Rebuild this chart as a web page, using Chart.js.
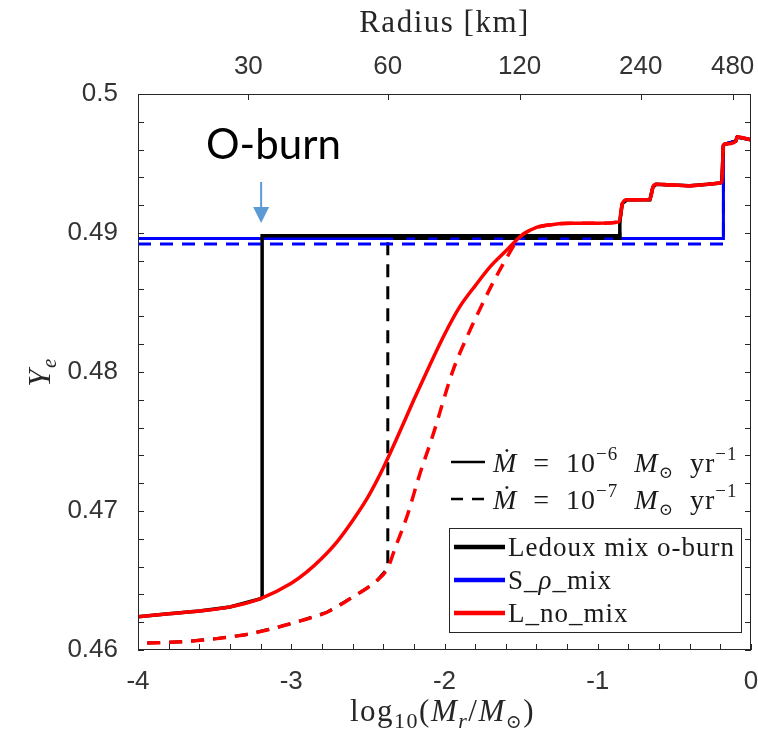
<!DOCTYPE html>
<html>
<head>
<meta charset="utf-8">
<title>Ye</title>
<script src="https://cdn.jsdelivr.net/npm/chart.js@4.4.1/dist/chart.umd.min.js"></script>
<style>
  html, body { margin: 0; padding: 0; background: #fff; }
</style>
</head>
<body>
<canvas id="grafico" width="758" height="734"></canvas>
<script>
// Ye against log10(Mr/Msun), two accretion rates, three mixing setups

// L_no_mix, Mdot = 1e-6 (inner part, up to the Ledoux front)
const redSolidX = [-4, -3.8, -3.6, -3.4, -3.2, -3.0, -2.9, -2.8, -2.7, -2.6, -2.5, -2.4, -2.3, -2.2, -2.1, -2.0, -1.9, -1.8, -1.7, -1.6, -1.5, -1.4, -1.3, -1.2, -1.0, -0.86];
const redSolidY = [0.4624, 0.4626, 0.4628, 0.4631, 0.4637, 0.4648, 0.4656, 0.4666, 0.4678, 0.4693, 0.4710, 0.4731, 0.4755, 0.4780, 0.4804, 0.4827, 0.4847, 0.4862, 0.4876, 0.4887, 0.4898, 0.4904, 0.4906, 0.4907, 0.4907, 0.4908];

// L_no_mix, Mdot = 1e-7
const redDashX = [-3.94, -3.7, -3.5, -3.3, -3.1, -2.94, -2.77, -2.6, -2.5, -2.44, -2.37, -2.32, -2.245, -2.16, -2.08, -1.945, -1.85, -1.77, -1.68, -1.59, -1.51, -1.42, -1.3, -1.15, -1.0, -0.86];
const redDashY = [0.4605, 0.4606, 0.4608, 0.4611, 0.4616, 0.4621, 0.4627, 0.4638, 0.4645, 0.4650, 0.4659, 0.4674, 0.4696, 0.4727, 0.4753, 0.4801, 0.4826, 0.4845, 0.4865, 0.4883, 0.4897, 0.4903, 0.4906, 0.4907, 0.4907, 0.4908];

// Ledoux mix o-burn, Mdot = 1e-6
const ledouxX = [-4, -3.8, -3.6, -3.4, -3.2, -3.19, -3.19, -0.856, -0.856];
const ledouxY = [0.4624, 0.4626, 0.4628, 0.4631, 0.4637, 0.4638, 0.4898, 0.4898, 0.4908];

// Ledoux mix o-burn, Mdot = 1e-7
const ledouxDashX = [-3.94, -3.7, -3.5, -3.3, -3.1, -2.94, -2.77, -2.6, -2.5, -2.44, -2.37, -2.37, -0.856, -0.856];
const ledouxDashY = [0.4605, 0.4606, 0.4608, 0.4611, 0.4616, 0.4621, 0.4627, 0.4638, 0.4645, 0.4650, 0.4659, 0.4896, 0.4896, 0.4908];

// S_rho_mix, flat until the surface layers
const sRhoX = [-4, -0.18];
const sRhoY = [0.4896, 0.4896];
const sRhoDashY = [0.4892, 0.4892];

// outer shells (same for every run)
const shellX = [-0.84, -0.81, -0.66, -0.64, -0.62, -0.4, -0.28, -0.2, -0.19];
const shellY = [0.4921, 0.4924, 0.4924, 0.4933, 0.4935, 0.4934, 0.4935, 0.4936, 0.4937];
const surfaceX = [-0.18, -0.17, -0.1, -0.09, 0];
const surfaceY = [0.4963, 0.4964, 0.4966, 0.4969, 0.4967];

// top axis: radius marks
const radiusTicks = [30, 60, 120, 240, 480];
const radiusTickPos = [-3.28, -2.37, -1.51, -0.72, -0.12];

const xTicks = [-4, -3, -2, -1, 0];
const yTicks = [0.46, 0.47, 0.48, 0.49, 0.5];

const modelNames = ['Ledoux mix o-burn', 'S_ρ_mix', 'L_no_mix'];
const modelColors = ['#000000', '#0000ff', '#ff0000'];

function pts(xs, ys) {
  return xs.map((x, i) => ({ x: x, y: ys[i] }));
}

const redSolid = pts(redSolidX.concat(shellX, surfaceX), redSolidY.concat(shellY, surfaceY));
const redDash = pts(redDashX.concat(shellX, surfaceX), redDashY.concat(shellY, surfaceY));
const ledoux = pts(ledouxX.concat(shellX, surfaceX), ledouxY.concat(shellY, surfaceY));
const ledouxDash = pts(ledouxDashX.concat(shellX, surfaceX), ledouxDashY.concat(shellY, surfaceY));
const sRho = pts(sRhoX.concat(surfaceX), sRhoY.concat(surfaceY));
const sRhoDash = pts(sRhoX.concat(surfaceX), sRhoDashY.concat(surfaceY));

const dash = [13, 9];

function serie(label, data, color, dashed, order, smooth, width) {
  return {
    label: label,
    data: data,
    borderColor: color,
    backgroundColor: color,
    borderWidth: width || 3,
    borderDash: dashed ? dash : [],
    pointRadius: 0,
    fill: false,
    order: order,
    cubicInterpolationMode: smooth ? 'monotone' : 'default',
    tension: 0
  };
}

function fnt(size, italic) {
  return (italic ? 'italic ' : '') + size + 'px "Liberation Serif", "DejaVu Serif", serif';
}

// text with pieces in different sizes / styles: [text, size, italic, dy]
function rich(ctx, parts, x, y, align) {
  let w = 0;
  for (const p of parts) { ctx.font = fnt(p[1], p[2]); w += ctx.measureText(p[0]).width; }
  let cx = align === 'center' ? x - w / 2 : x;
  ctx.textAlign = 'left';
  ctx.textBaseline = 'alphabetic';
  for (const p of parts) {
    ctx.font = fnt(p[1], p[2]);
    ctx.fillText(p[0], cx, y + (p[3] || 0));
    cx += ctx.measureText(p[0]).width;
  }
  return w;
}

const marcos = {
  id: 'marcos',
  afterDatasetsDraw(chart) {
    const { ctx, chartArea: a, scales } = chart;
    const tl = 6;
    ctx.save();
    ctx.strokeStyle = '#262626';
    ctx.lineWidth = 1;
    ctx.beginPath();
    for (let i = 0; i <= 20; i++) {
      const px = Math.round(scales.x.getPixelForValue(-4 + i * 0.2)) + 0.5;
      ctx.moveTo(px, a.bottom);
      ctx.lineTo(px, a.bottom - tl);
    }
    for (let i = 0; i <= 20; i++) {
      const py = Math.round(scales.y.getPixelForValue(0.46 + i * 0.002)) + 0.5;
      ctx.moveTo(a.left, py);
      ctx.lineTo(a.left + tl, py);
      ctx.moveTo(a.right, py);
      ctx.lineTo(a.right - tl, py);
    }
    for (const v of radiusTickPos) {
      const px = Math.round(scales.x2.getPixelForValue(v)) + 0.5;
      ctx.moveTo(px, a.top);
      ctx.lineTo(px, a.top + tl);
    }
    ctx.stroke();
    ctx.strokeRect(Math.round(a.left) + 0.5, Math.round(a.top) + 0.5, Math.round(a.width) - 1, Math.round(a.height) - 1);
    ctx.restore();
  },
  afterDraw(chart) {
    const { ctx, chartArea: a } = chart;
    const cx = (a.left + a.right) / 2;
    ctx.save();
    ctx.fillStyle = '#262626';
    ctx.letterSpacing = '1.5px';

    // axis titles
    rich(ctx, [['Radius [km]', 31, false]], cx, 32, 'center');
    rich(ctx, [
      ['log', 31, false], ['10', 22, false, 7], ['(', 31, false], ['M', 31, true], ['r', 22, true, 7],
      ['/', 31, false], ['M', 31, true], ['⊙', 19, false, 7], [')', 31, false]
    ], cx - 2, 721, 'center');
    ctx.save();
    ctx.translate(50, (a.top + a.bottom) / 2);
    ctx.rotate(-Math.PI / 2);
    rich(ctx, [['Y', 31, true], ['e', 21, true, 6]], 0, 0, 'center');
    ctx.restore();

    // accretion-rate key
    ctx.letterSpacing = '1px';
    ctx.fillStyle = '#1a1a1a';
    const rates = [['6', 462, []], ['7', 499, [12, 9]]];
    for (const r of rates) {
      ctx.strokeStyle = '#000';
      ctx.lineWidth = 2.5;
      ctx.setLineDash(r[2]);
      ctx.beginPath();
      ctx.moveTo(451, r[1]);
      ctx.lineTo(485, r[1]);
      ctx.stroke();
      ctx.setLineDash([]);
      rich(ctx, [
        ['Ṁ', 28, true], ['  =  10', 28, false], ['−' + r[0], 19, false, -12], ['  ', 28, false],
        ['M', 28, true], ['⊙', 17, false, 6], ['  yr', 28, false], ['−1', 19, false, -12]
      ], 493, r[1] + 10, 'left');
    }

    // model key
    ctx.fillStyle = '#fff';
    ctx.fillRect(449, 528, 292, 104);
    ctx.strokeStyle = '#262626';
    ctx.lineWidth = 1;
    ctx.strokeRect(449.5, 528.5, 292, 104);
    const rows = [547, 580, 613];
    modelNames.forEach((name, i) => {
      ctx.strokeStyle = modelColors[i];
      ctx.lineWidth = 4.5;
      ctx.beginPath();
      ctx.moveTo(454, rows[i]);
      ctx.lineTo(505, rows[i]);
      ctx.stroke();
      ctx.fillStyle = '#1a1a1a';
      if (name.indexOf('ρ') >= 0) {
        const bits = name.split('ρ');
        rich(ctx, [[bits[0], 27, false], ['ρ', 27, true], [bits[1], 27, false]], 508, rows[i] + 9, 'left');
      } else {
        rich(ctx, [[name, 27, false]], 508, rows[i] + 9, 'left');
      }
    });

    // O-burn marker
    ctx.letterSpacing = '0px';
    ctx.fillStyle = '#000';
    ctx.font = '42px Lato, "Open Sans", sans-serif';
    ctx.textAlign = 'left';
    ctx.textBaseline = 'alphabetic';
    ctx.fillText('O-burn', 206, 159);
    const ax = chart.scales.x.getPixelForValue(ledouxX[5]) - 1;
    ctx.strokeStyle = '#5b9bd5';
    ctx.fillStyle = '#5b9bd5';
    ctx.lineWidth = 2;
    ctx.beginPath();
    ctx.moveTo(ax, 182);
    ctx.lineTo(ax, 210);
    ctx.stroke();
    ctx.beginPath();
    ctx.moveTo(ax - 8, 207);
    ctx.lineTo(ax + 8, 207);
    ctx.lineTo(ax, 223);
    ctx.closePath();
    ctx.fill();
    ctx.restore();
  }
};

const tickFont = { family: '"Liberation Sans", Arial, sans-serif', size: 26 };

function noPad(s) {
  s.paddingLeft = 0;
  s.paddingRight = 0;
  s.paddingTop = 0;
  s.paddingBottom = 0;
}

new Chart(document.getElementById('grafico'), {
  type: 'line',
  data: {
    datasets: [
      serie('L_no_mix', redSolid, '#ff0000', false, 0, true, 3.5),
      serie('L_no_mix', redDash, '#ff0000', true, 1, true, 3.5),
      serie('S_ρ_mix', sRhoDash, '#0000ff', true, 2, false),
      serie('Ledoux mix o-burn', ledouxDash, '#000000', true, 3, false),
      serie('Ledoux mix o-burn', ledoux, '#000000', false, 4, false, 3.5),
      serie('S_ρ_mix', sRho, '#0000ff', false, 5, false)
    ]
  },
  options: {
    responsive: false,
    devicePixelRatio: 1,
    animation: false,
    layout: { padding: { left: 0, right: 7, top: 0, bottom: 0 } },
    plugins: { legend: { display: false }, tooltip: { enabled: false } },
    scales: {
      x: {
        type: 'linear',
        position: 'bottom',
        min: -4,
        max: 0,
        afterBuildTicks: (s) => { s.ticks = xTicks.map(v => ({ value: v })); },
        afterFit: (s) => { s.height = 84; noPad(s); },
        grid: { display: false, drawTicks: false },
        border: { display: false },
        ticks: { font: tickFont, color: '#333', padding: 16, autoSkip: false, maxRotation: 0, callback: (v) => String(v) }
      },
      x2: {
        type: 'linear',
        position: 'top',
        min: -4,
        max: 0,
        afterBuildTicks: (s) => { s.ticks = radiusTickPos.map(v => ({ value: v })); },
        afterFit: (s) => { s.height = 94; noPad(s); },
        grid: { display: false, drawTicks: false },
        border: { display: false },
        ticks: { font: tickFont, color: '#333', padding: 12, autoSkip: false, maxRotation: 0, callback: (v, i) => String(radiusTicks[i]) }
      },
      y: {
        type: 'linear',
        min: 0.46,
        max: 0.5,
        afterBuildTicks: (s) => { s.ticks = yTicks.map(v => ({ value: v })); },
        afterFit: (s) => { s.width = 138; noPad(s); },
        grid: { display: false, drawTicks: false },
        border: { display: false },
        ticks: { font: tickFont, color: '#333', padding: 20, callback: (v) => String(+v.toFixed(2)) }
      }
    }
  },
  plugins: [marcos]
});
</script>
</body>
</html>
